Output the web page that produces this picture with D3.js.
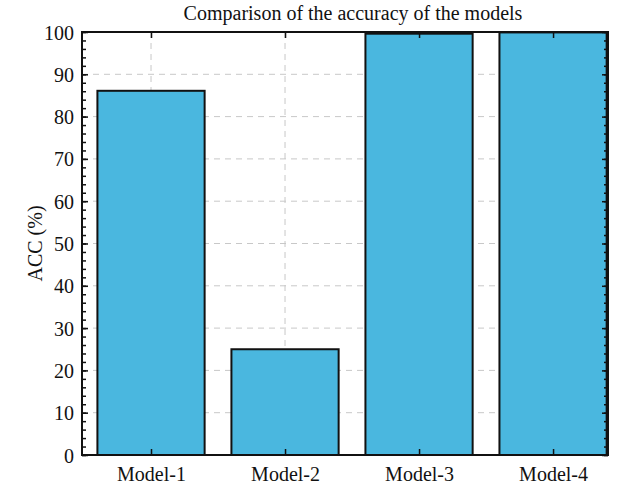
<!DOCTYPE html>
<html><head><meta charset="utf-8">
<script src="https://cdn.jsdelivr.net/npm/d3@7"></script>
<style>body{margin:0;background:#fff}svg{display:block}text{font-family:"Liberation Serif","DejaVu Serif",serif}</style>
</head><body>
<svg id="c" width="623" height="487"></svg>
<script>
const categories = ["Model-1","Model-2","Model-3","Model-4"];
const accuracy = [86.1, 25.0, 99.6, 99.9];
const yTicks = [0,10,20,30,40,50,60,70,80,90,100];
const titleText = "Comparison of the accuracy of the models";
const yLabel = "ACC (%)";

const svg = d3.select("#c");
const L=82, R=608, T=32, B=455;
const x = d3.scaleLinear().domain([0.485, 4.41]).range([L, R]);
const y = d3.scaleLinear().domain([0, 100]).range([B, T]);
const bw = x(1.4) - x(0.6);

// grid
const g = svg.append("g");
g.selectAll(".gy").data(yTicks.slice(1,-1)).join("line")
  .attr("x1",L).attr("x2",R).attr("y1",d=>y(d)).attr("y2",d=>y(d))
  .attr("stroke","#c8c8c8").attr("stroke-width",1).attr("stroke-dasharray","6,5");
g.selectAll(".gx").data(categories).join("line")
  .attr("x1",(d,i)=>x(i+1)).attr("x2",(d,i)=>x(i+1)).attr("y1",T).attr("y2",B)
  .attr("stroke","#c8c8c8").attr("stroke-width",1).attr("stroke-dasharray","6,5");

// bars
svg.append("g").selectAll("rect").data(accuracy).join("rect")
  .attr("x",(d,i)=>x(i+1)-bw/2).attr("width",bw)
  .attr("y",d=>y(d)).attr("height",d=>B-y(d))
  .attr("fill","#4ab7df").attr("stroke","#111").attr("stroke-width",2);

// axes
const minor = d3.range(0,101,2);
const yl = svg.append("g").attr("transform",`translate(${L},0)`)
  .call(d3.axisLeft(y).tickValues(yTicks).tickSize(-6).tickPadding(8).tickFormat(d3.format("d")));
const ylm = svg.append("g").attr("transform",`translate(${L},0)`)
  .call(d3.axisLeft(y).tickValues(minor).tickSize(-4).tickFormat(""));
const yr = svg.append("g").attr("transform",`translate(${R},0)`)
  .call(d3.axisRight(y).tickValues(yTicks).tickSize(-6).tickFormat(""));
const yrm = svg.append("g").attr("transform",`translate(${R},0)`)
  .call(d3.axisRight(y).tickValues(minor).tickSize(-4).tickFormat(""));
const xb = svg.append("g").attr("transform",`translate(0,${B})`)
  .call(d3.axisBottom(x).tickValues([1,2,3,4]).tickSize(-6).tickPadding(12).tickFormat((d,i)=>categories[i]));
const xt = svg.append("g").attr("transform",`translate(0,${T})`)
  .call(d3.axisTop(x).tickValues([1,2,3,4]).tickSize(-6).tickFormat(""));
[yl,ylm,yr,yrm,xb,xt].forEach(a=>{
  a.select(".domain").remove();
  a.selectAll(".tick line").attr("stroke","#111").attr("stroke-width",1.5);
  a.selectAll("text").attr("font-family","Liberation Serif, serif").attr("font-size",20).attr("fill","#111");
});
yl.selectAll("text").attr("dy","0.35em");

// frame
svg.append("rect").attr("x",L).attr("y",T).attr("width",R-L).attr("height",B-T)
  .attr("fill","none").attr("stroke","#111").attr("stroke-width",2);

// title & label
svg.append("text").attr("x",(L+R)/2 + 8).attr("y",20).attr("text-anchor","middle")
  .attr("font-size",20).attr("fill","#111").text(titleText);
svg.append("text").attr("transform",`translate(42,${(T+B)/2}) rotate(-90)`).attr("text-anchor","middle")
  .attr("font-size",20).attr("fill","#111").text(yLabel);
</script>
</body></html>
